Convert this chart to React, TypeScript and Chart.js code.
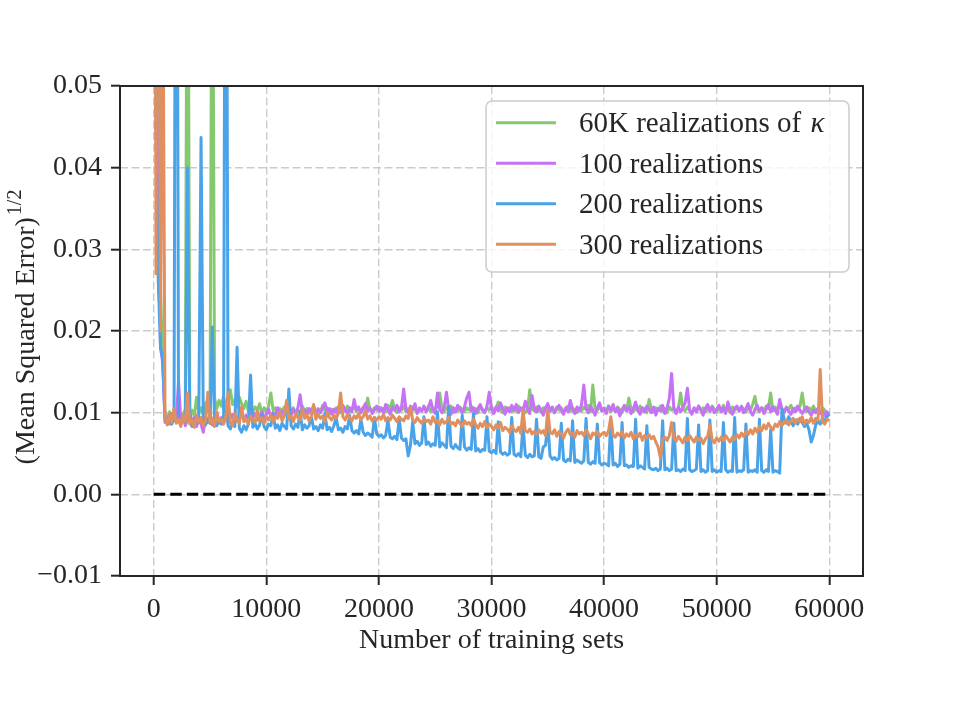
import { useEffect, useRef } from "react";
import { Chart, registerables } from "chart.js";

Chart.register(...registerables);

// Checkpoints: number of training sets seen so far
const trainingSets = [
  0, 200, 400, 600, 800, 1000, 1200, 1400, 1600, 1800,
  2000, 2200, 2400, 2600, 2800, 3000, 3200, 3400, 3600, 3800,
  4000, 4200, 4400, 4600, 4800, 5000, 5200, 5400, 5600, 5800,
  6000, 6200, 6400, 6600, 6800, 7000, 7200, 7400, 7600, 7800,
  8000, 8200, 8400, 8600, 8800, 9000, 9200, 9400, 9600, 9800,
  10000, 10200, 10400, 10600, 10800, 11000, 11200, 11400, 11600, 11800,
  12000, 12200, 12400, 12600, 12800, 13000, 13200, 13400, 13600, 13800,
  14000, 14200, 14400, 14600, 14800, 15000, 15200, 15400, 15600, 15800,
  16000, 16200, 16400, 16600, 16800, 17000, 17200, 17400, 17600, 17800,
  18000, 18200, 18400, 18600, 18800, 19000, 19200, 19400, 19600, 19800,
  20000, 20200, 20400, 20600, 20800, 21000, 21200, 21400, 21600, 21800,
  22000, 22200, 22400, 22600, 22800, 23000, 23200, 23400, 23600, 23800,
  24000, 24200, 24400, 24600, 24800, 25000, 25200, 25400, 25600, 25800,
  26000, 26200, 26400, 26600, 26800, 27000, 27200, 27400, 27600, 27800,
  28000, 28200, 28400, 28600, 28800, 29000, 29200, 29400, 29600, 29800,
  30000, 30200, 30400, 30600, 30800, 31000, 31200, 31400, 31600, 31800,
  32000, 32200, 32400, 32600, 32800, 33000, 33200, 33400, 33600, 33800,
  34000, 34200, 34400, 34600, 34800, 35000, 35200, 35400, 35600, 35800,
  36000, 36200, 36400, 36600, 36800, 37000, 37200, 37400, 37600, 37800,
  38000, 38200, 38400, 38600, 38800, 39000, 39200, 39400, 39600, 39800,
  40000, 40200, 40400, 40600, 40800, 41000, 41200, 41400, 41600, 41800,
  42000, 42200, 42400, 42600, 42800, 43000, 43200, 43400, 43600, 43800,
  44000, 44200, 44400, 44600, 44800, 45000, 45200, 45400, 45600, 45800,
  46000, 46200, 46400, 46600, 46800, 47000, 47200, 47400, 47600, 47800,
  48000, 48200, 48400, 48600, 48800, 49000, 49200, 49400, 49600, 49800,
  50000, 50200, 50400, 50600, 50800, 51000, 51200, 51400, 51600, 51800,
  52000, 52200, 52400, 52600, 52800, 53000, 53200, 53400, 53600, 53800,
  54000, 54200, 54400, 54600, 54800, 55000, 55200, 55400, 55600, 55800,
  56000, 56200, 56400, 56600, 56800, 57000, 57200, 57400, 57600, 57800,
  58000, 58200, 58400, 58600, 58800, 59000, 59200, 59400, 59600, 59800,
  60000,
];

// (Mean Squared Error)^(1/2) per checkpoint, one array per training setup
const rmse60k = [
  .15, .09, .05, .025, .016, .0097, .0092, .0101, .0094, .0099,
  .0095, .0102, .0093, .0098, .0104, .09, .0097, .0103, .0096, .0119,
  .0100, .0106, .0098, .0112, .0103, .0109, .085, .0118, .0105, .0115,
  .0108, .0120, .0106, .0113, .0128, .0110, .0116, .0107, .0119, .0111,
  .0105, .0114, .0102, .0109, .0100, .0107, .0103, .0111, .0098, .0106,
  .0101, .0108, .0124, .0103, .0106, .0099, .0105, .0102, .0107, .0100,
  .0104, .0101, .0106, .0098, .0103, .0100, .0108, .0102, .0105, .0099,
  .0103, .0107, .0100, .0105, .0101, .0109, .0102, .0106, .0099, .0104,
  .0101, .0106, .0103, .0100, .0105, .0102, .0108, .0101, .0104, .0107,
  .0102, .0105, .0100, .0107, .0103, .0118, .0104, .0101, .0106, .0103,
  .0107, .0102, .0105, .0101, .0109, .0104, .0115, .0103, .0100, .0106,
  .0103, .0108, .0101, .0105, .0102, .0107, .0104, .0100, .0106, .0103,
  .0105, .0102, .0108, .0101, .0106, .0103, .0109, .0124, .0104, .0101,
  .0106, .0103, .0108, .0100, .0105, .0102, .0107, .0104, .0101, .0106,
  .0103, .0108, .0102, .0105, .0100, .0107, .0104, .0101, .0106, .0103,
  .0108, .0102, .0105, .0113, .0104, .0100, .0107, .0103, .0106, .0101,
  .0105, .0102, .0108, .0103, .0106, .0100, .0104, .0128, .0105, .0102,
  .0107, .0103, .0101, .0106, .0104, .0109, .0102, .0105, .0100, .0107,
  .0103, .0106, .0101, .0105, .0108, .0102, .0106, .0103, .0100, .0105,
  .0102, .0107, .0104, .0109, .0101, .0134, .0105, .0103, .0108, .0102,
  .0106, .0103, .0108, .0101, .0105, .0102, .0107, .0104, .0100, .0106,
  .0103, .0118, .0104, .0101, .0106, .0102, .0108, .0103, .0105, .0100,
  .0116, .0104, .0101, .0106, .0103, .0108, .0102, .0105, .0100, .0107,
  .0103, .0106, .0101, .0105, .0124, .0104, .0102, .0107, .0103, .0100,
  .0105, .0102, .0108, .0103, .0106, .0101, .0105, .0102, .0108, .0104,
  .0101, .0106, .0103, .0109, .0102, .0105, .0100, .0107, .0103, .0106,
  .0102, .0108, .0104, .0101, .0106, .0103, .0110, .0120, .0104, .0101,
  .0106, .0103, .0108, .0105, .0124, .0102, .0107, .0104, .0111, .0105,
  .0102, .0107, .0104, .0109, .0101, .0106, .0103, .0108, .0124, .0105,
  .0101, .0106, .0103, .0108, .0102, .0105, .0100, .0106, .0103, .0099,
  .0097,
];

const rmse100 = [
  .12, .06, .03, .018, .016, .0088, .0095, .0086, .0099, .0090,
  .0093, .0138, .0089, .0096, .0084, .0092, .0101, .0087, .0094, .0083,
  .0091, .0086, .0076, .0095, .0088, .0099, .0085, .0092, .0097, .0087,
  .0094, .0089, .0102, .0086, .0093, .0098, .0088, .0095, .0091, .0100,
  .0092, .0097, .0089, .0103, .0094, .0099, .0091, .0096, .0101, .0093,
  .0098, .0104, .0095, .0100, .0097, .0106, .0099, .0102, .0096, .0108,
  .0101, .0097, .0104, .0099, .0106, .0122, .0100, .0103, .0098, .0105,
  .0102, .0108, .0099, .0104, .0100, .0106, .0112, .0101, .0105, .0098,
  .0104, .0100, .0107, .0102, .0109, .0103, .0099, .0106, .0101, .0116,
  .0103, .0107, .0100, .0105, .0111, .0102, .0106, .0099, .0104, .0108,
  .0102, .0106, .0100, .0110, .0104, .0098, .0107, .0103, .0109, .0101,
  .0106, .0129, .0104, .0100, .0108, .0103, .0111, .0099, .0105, .0102,
  .0108, .0101, .0106, .0115, .0103, .0099, .0124, .0104, .0100, .0107,
  .0125, .0103, .0098, .0106, .0101, .0109, .0104, .0100, .0107, .0118,
  .0125, .0102, .0106, .0099, .0105, .0110, .0103, .0100, .0108, .0125,
  .0104, .0099, .0107, .0102, .0112, .0105, .0098, .0106, .0101, .0109,
  .0103, .0110, .0100, .0106, .0102, .0114, .0104, .0099, .0121, .0105,
  .0101, .0108, .0103, .0097, .0106, .0111, .0102, .0107, .0100, .0105,
  .0109, .0103, .0098, .0106, .0101, .0115, .0104, .0099, .0107, .0102,
  .0110, .0134, .0105, .0100, .0108, .0103, .0097, .0106, .0112, .0102,
  .0105, .0099, .0108, .0103, .0110, .0101, .0106, .0096, .0104, .0109,
  .0102, .0107, .0099, .0105, .0113, .0103, .0098, .0106, .0101, .0108,
  .0104, .0100, .0107, .0097, .0105, .0102, .0109, .0099, .0106, .0118,
  .0148, .0104, .0099, .0107, .0101, .0106, .0112, .0130, .0103, .0098,
  .0106, .0101, .0108, .0103, .0097, .0105, .0110, .0102, .0107, .0100,
  .0104, .0109, .0101, .0106, .0099, .0113, .0103, .0098, .0105, .0108,
  .0102, .0107, .0100, .0105, .0111, .0101, .0097, .0104, .0109, .0102,
  .0106, .0099, .0104, .0110, .0101, .0107, .0103, .0098, .0116, .0104,
  .0100, .0106, .0102, .0098, .0105, .0101, .0108, .0103, .0099, .0104,
  .0107, .0101, .0097, .0103, .0100, .0105, .0099, .0102, .0096, .0101,
  .0098,
];

const rmse200 = [
  .14, .045, .026, .018, .0165, .0091, .0088, .0093, .0086, .0092,
  .12, .0091, .0086, .0094, .0088, .040, .0090, .0083, .0093, .0087,
  .0095, .0437, .0089, .0085, .0092, .0087, .0205, .0090, .0084, .0091,
  .0086, .0089, .11, .0084, .0080, .0088, .0083, .018, .0081, .0076,
  .0084, .0079, .0086, .0146, .0082, .0087, .0080, .0085, .0098, .0083,
  .0079, .0086, .0084, .0099, .0081, .0085, .0078, .0087, .0083, .0080,
  .0129, .0084, .0080, .0086, .0082, .0101, .0079, .0085, .0081, .0084,
  .0096, .0080, .0083, .0078, .0085, .0081, .0099, .0079, .0082, .0077,
  .0084, .0094, .0079, .0081, .0076, .0083, .0080, .0097, .0078, .0075,
  .0078, .0074, .0092, .0076, .0072, .0075, .0073, .0070, .0094, .0074,
  .0071, .0073, .0069, .0072, .0091, .0070, .0068, .0071, .0067, .0093,
  .0069, .0066, .0068, .0047, .0060, .0089, .0062, .0065, .0060, .0063,
  .0095, .0061, .0064, .0059, .0062, .0060, .0101, .0058, .0063, .0060,
  .0057, .0108, .0059, .0056, .0061, .0057, .0055, .0097, .0058, .0054,
  .0057, .0055, .0099, .0053, .0056, .0052, .0055, .0054, .0095, .0053,
  .0051, .0054, .0050, .0089, .0052, .0049, .0051, .0048, .0050, .0094,
  .0049, .0047, .0050, .0046, .0085, .0048, .0045, .0049, .0046, .0047,
  .0092, .0046, .0044, .0058, .0060, .0088, .0047, .0043, .0045, .0042,
  .0044, .0087, .0042, .0040, .0043, .0041, .0090, .0039, .0042, .0040,
  .0038, .0041, .0093, .0039, .0037, .0040, .0038, .0086, .0039, .0036,
  .0038, .0037, .0035, .0091, .0036, .0038, .0034, .0037, .0088, .0035,
  .0036, .0033, .0035, .0034, .0092, .0032, .0035, .0033, .0031, .0084,
  .0033, .0031, .0030, .0032, .0029, .0031, .0090, .0030, .0032, .0029,
  .0031, .0087, .0029, .0030, .0028, .0031, .0029, .0093, .0030, .0028,
  .0029, .0031, .0085, .0028, .0030, .0027, .0029, .0091, .0028, .0030,
  .0027, .0029, .0028, .0088, .0030, .0027, .0029, .0028, .0094, .0027,
  .0029, .0028, .0030, .0086, .0027, .0029, .0028, .0030, .0027, .0092,
  .0029, .0027, .0030, .0028, .0079, .0027, .0029, .0028, .0026, .0104,
  .0092, .0087, .0095, .0089, .0084, .0091, .0086, .0093, .0088, .0083,
  .0087, .0079, .0064, .0072, .0085, .0090, .0086, .0093, .0089, .0095,
  .0098,
];

const rmse300 = [
  .15, .027, .11, .02, .07, .0093, .0085, .0098, .0088, .0105,
  .0087, .0092, .0083, .0096, .0089, .0124, .0086, .0091, .0082, .0097,
  .0088, .0094, .0084, .0090, .0125, .0087, .0093, .0083, .0101, .0089,
  .0092, .0086, .0095, .0124, .0088, .0084, .0099, .0090, .0087, .0107,
  .0089, .0093, .0086, .0096, .0091, .0088, .0102, .0090, .0094, .0087,
  .0095, .0091, .0098, .0089, .0096, .0093, .0101, .0090, .0097, .0115,
  .0092, .0096, .0089, .0099, .0094, .0091, .0103, .0093, .0097, .0090,
  .0095, .0110, .0092, .0098, .0093, .0096, .0089, .0100, .0094, .0091,
  .0097, .0093, .0099, .0124, .0095, .0091, .0098, .0094, .0090, .0096,
  .0093, .0099, .0091, .0095, .0102, .0092, .0096, .0090, .0094, .0091,
  .0095, .0092, .0098, .0090, .0094, .0091, .0097, .0093, .0089, .0095,
  .0092, .0090, .0096, .0093, .0107, .0091, .0088, .0094, .0090, .0087,
  .0093, .0089, .0091, .0086, .0095, .0088, .0090, .0085, .0092, .0087,
  .0089, .0094, .0086, .0088, .0084, .0091, .0087, .0083, .0090, .0086,
  .0088, .0084, .0092, .0085, .0081, .0087, .0083, .0089, .0082, .0086,
  .0083, .0079, .0085, .0081, .0088, .0078, .0082, .0080, .0076, .0084,
  .0079, .0077, .0082, .0075, .0103, .0078, .0076, .0080, .0074, .0077,
  .0073, .0079, .0075, .0078, .0072, .0103, .0076, .0074, .0079, .0071,
  .0077, .0074, .0069, .0076, .0080, .0073, .0075, .0070, .0078, .0074,
  .0076, .0072, .0079, .0074, .0068, .0075, .0073, .0077, .0071, .0074,
  .0076, .0072, .0078, .0095, .0073, .0070, .0075, .0072, .0077, .0069,
  .0074, .0071, .0076, .0068, .0073, .0070, .0075, .0066, .0072, .0069,
  .0073, .0068, .0071, .0064, .0058, .0045, .0067, .0070, .0066, .0072,
  .0088, .0069, .0065, .0071, .0067, .0063, .0070, .0066, .0072, .0068,
  .0064, .0070, .0066, .0069, .0062, .0068, .0071, .0085, .0067, .0063,
  .0069, .0065, .0070, .0066, .0072, .0068, .0064, .0070, .0067, .0073,
  .0069, .0075, .0071, .0077, .0073, .0079, .0074, .0081, .0076, .0083,
  .0078, .0085, .0080, .0087, .0082, .0079, .0086, .0083, .0089, .0084,
  .0088, .0091, .0085, .0090, .0093, .0087, .0092, .0089, .0095, .0086,
  .0091, .0088, .0094, .0087, .0093, .0090, .0153, .0089, .0086, .0092,
  .0090,
];

// Reference line at zero error
const zeroLineX = [0, 60000];
const zeroLineY = [0, 0];

const xTickValues = [0, 10000, 20000, 30000, 40000, 50000, 60000];
const yTickValues = [-0.01, 0, 0.01, 0.02, 0.03, 0.04, 0.05];

const seriesLabels = [
  "60K realizations of κ",
  "100 realizations",
  "200 realizations",
  "300 realizations",
];
const seriesColors = ["#85c86f", "#c572f6", "#4aa3e8", "#e08f5e"];

const FONT = '"Liberation Serif", "Times New Roman", serif';
const INK = "#262626";
const FONT_PX = 28;
const LEGEND_PX = 29;

function formatYTick(v: number): string {
  const s = Math.abs(v).toFixed(2);
  return v < -1e-12 ? "\u2212" + s : s;
}

// Box around the whole plotting area (all four spines)
const framePlugin = {
  id: "frame",
  afterDatasetsDraw(chart: any) {
    const { ctx, chartArea: a } = chart;
    ctx.save();
    ctx.strokeStyle = INK;
    ctx.lineWidth = 2;
    ctx.strokeRect(a.left, a.top, a.right - a.left, a.bottom - a.top);
    ctx.restore();
  },
};

// Axis titles; the y title carries a raised 1/2 exponent
const axisTitlePlugin = {
  id: "axisTitles",
  afterDraw(chart: any) {
    const { ctx, chartArea: a } = chart;
    ctx.save();
    ctx.fillStyle = INK;

    ctx.font = `${FONT_PX}px ${FONT}`;
    ctx.textAlign = "center";
    ctx.textBaseline = "middle";
    ctx.fillText("Number of training sets", (a.left + a.right) / 2, 641);

    const main = "(Mean Squared Error)";
    const sup = "1/2";
    ctx.translate(26, 327);
    ctx.rotate(-Math.PI / 2);
    ctx.textAlign = "left";
    ctx.textBaseline = "alphabetic";
    ctx.font = `${FONT_PX}px ${FONT}`;
    const w1 = ctx.measureText(main).width;
    ctx.font = `20px ${FONT}`;
    const w2 = ctx.measureText(sup).width;
    const start = -(w1 + 2 + w2) / 2;
    ctx.font = `${FONT_PX}px ${FONT}`;
    ctx.fillText(main, start, 8);
    ctx.font = `20px ${FONT}`;
    ctx.fillText(sup, start + w1 + 2, -5);
    ctx.restore();
  },
};

// Framed legend in the upper right corner of the plotting area
const legendPlugin = {
  id: "boxLegend",
  afterDraw(chart: any) {
    const { ctx, chartArea: a } = chart;
    const entries = chart.data.datasets.filter((d: any) => d.label);
    const right = a.right - 14;
    const top = a.top + 15;
    const width = 363;
    const height = 171;
    const left = right - width;
    ctx.save();
    ctx.beginPath();
    ctx.roundRect(left, top, width, height, 6);
    ctx.fillStyle = "rgba(255,255,255,0.8)";
    ctx.fill();
    ctx.strokeStyle = "#cccccc";
    ctx.lineWidth = 1.5;
    ctx.stroke();

    entries.forEach((d: any, k: number) => {
      const y = top + 21.7 + k * 40.5;
      ctx.beginPath();
      ctx.moveTo(left + 10, y);
      ctx.lineTo(left + 70, y);
      ctx.strokeStyle = d.borderColor;
      ctx.lineWidth = 3;
      ctx.stroke();

      ctx.fillStyle = INK;
      ctx.textAlign = "left";
      ctx.textBaseline = "middle";
      const label: string = d.label;
      const kIdx = label.indexOf("κ");
      const tx = left + 93;
      const ty = y + 2;
      if (kIdx >= 0) {
        const head = label.slice(0, kIdx);
        ctx.font = `${LEGEND_PX}px ${FONT}`;
        ctx.fillText(head, tx, ty);
        const hw = ctx.measureText(head).width;
        ctx.font = `italic ${LEGEND_PX}px ${FONT}`;
        ctx.fillText("κ", tx + hw + 2, ty);
      } else {
        ctx.font = `${LEGEND_PX}px ${FONT}`;
        ctx.fillText(label, tx, ty);
      }
    });
    ctx.restore();
  },
};

export default function App() {
  const canvasRef = useRef<HTMLCanvasElement | null>(null);

  useEffect(() => {
    const canvas = canvasRef.current;
    if (!canvas) return;

    const series = [rmse60k, rmse100, rmse200, rmse300];
    const datasets: any[] = series.map((vals, k) => ({
      label: seriesLabels[k],
      data: trainingSets.map((x, i) => ({ x, y: vals[i] })),
      borderColor: seriesColors[k],
      borderWidth: 3,
      borderJoinStyle: "round",
      pointRadius: 0,
      tension: 0,
      fill: false,
      clip: 0,
      order: 4 - k,
    }));
    datasets.push({
      label: "",
      data: zeroLineX.map((x, i) => ({ x, y: zeroLineY[i] })),
      borderColor: "#000000",
      borderWidth: 3,
      borderDash: [11.5, 5],
      pointRadius: 0,
      fill: false,
      clip: 0,
      order: 0,
    });

    const tickFont = { family: FONT, size: FONT_PX };

    const chart = new Chart(canvas, {
      type: "line",
      data: { datasets },
      options: {
        responsive: false,
        animation: false,
        devicePixelRatio: 1,
        layout: { padding: { top: 86, right: 97, bottom: 0, left: 0 } },
        plugins: {
          legend: { display: false },
          tooltip: { enabled: false },
        },
        scales: {
          x: {
            type: "linear",
            min: -3000,
            max: 63000,
            afterBuildTicks: (s: any) => {
              s.ticks = xTickValues.map((value) => ({ value }));
            },
            afterFit: (s: any) => {
              s.height = 144;
            },
            ticks: {
              font: tickFont,
              color: INK,
              padding: 8,
              maxRotation: 0,
              autoSkip: false,
              callback: (v: any) => String(v),
            },
            grid: {
              color: "#cbcbcb",
              lineWidth: 1.4,
              drawTicks: true,
              tickLength: 9,
              tickColor: INK,
              tickWidth: 2,
              tickBorderDash: [],
            },
            border: { display: false, dash: [8, 3.5] },
          },
          y: {
            type: "linear",
            min: -0.01,
            max: 0.05,
            afterBuildTicks: (s: any) => {
              s.ticks = yTickValues.map((value) => ({ value }));
            },
            afterFit: (s: any) => {
              s.width = 120;
            },
            ticks: {
              font: tickFont,
              color: INK,
              padding: 9,
              autoSkip: false,
              callback: (v: any) => formatYTick(Number(v)),
            },
            grid: {
              color: "#cbcbcb",
              lineWidth: 1.4,
              drawTicks: true,
              tickLength: 9,
              tickColor: INK,
              tickWidth: 2,
              tickBorderDash: [],
            },
            border: { display: false, dash: [8, 3.5] },
          },
        },
      } as any,
      plugins: [framePlugin, axisTitlePlugin, legendPlugin],
    });

    return () => chart.destroy();
  }, []);

  return (
    <div style={{ position: "fixed", left: 0, top: 0, width: 960, height: 720, background: "#ffffff" }}>
      <canvas ref={canvasRef} width={960} height={720} style={{ display: "block" }} />
    </div>
  );
}
